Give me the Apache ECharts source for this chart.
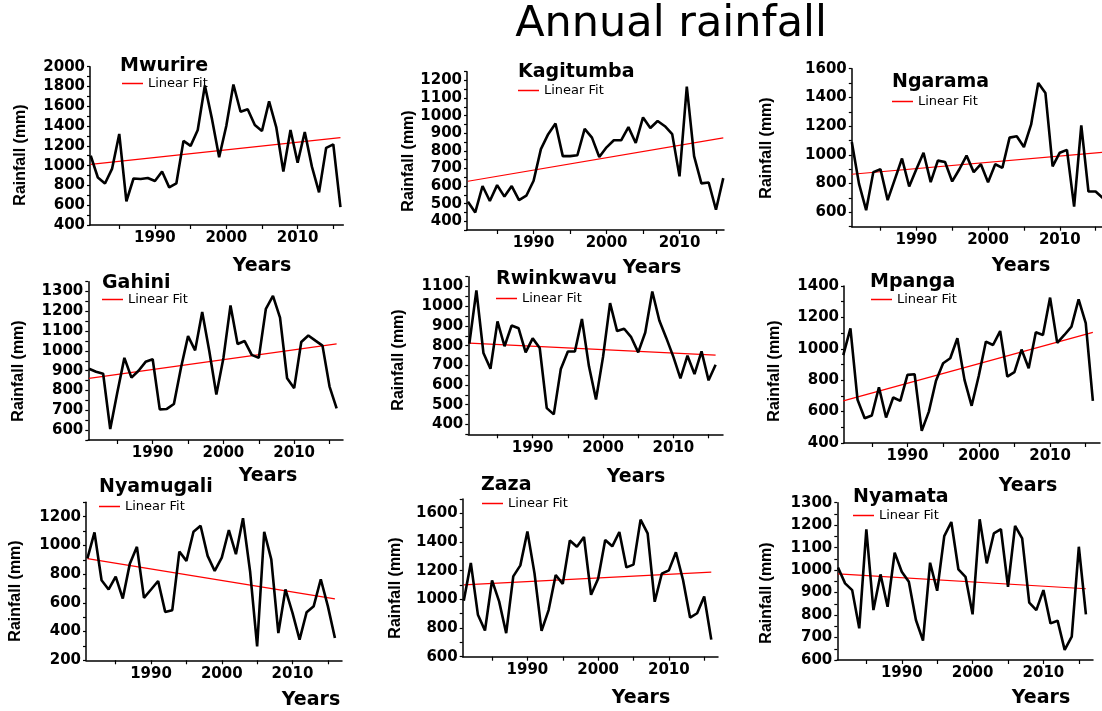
<!DOCTYPE html>
<html>
<head>
<meta charset="utf-8">
<title>Annual rainfall</title>
<script src="https://cdn.jsdelivr.net/npm/echarts@6/dist/echarts.min.js"></script>
<style>
  html, body { margin: 0; padding: 0; background: #fff; }
  #main { width: 1102px; height: 711px; }
</style>
</head>
<body>
<div id="main"></div>
<script>
// years on the x axis
const years = [1981, 1982, 1983, 1984, 1985, 1986, 1987, 1988, 1989, 1990,
  1991, 1992, 1993, 1994, 1995, 1996, 1997, 1998, 1999, 2000,
  2001, 2002, 2003, 2004, 2005, 2006, 2007, 2008, 2009, 2010,
  2011, 2012, 2013, 2014, 2015, 2016];
const yearTicks = [1985, 1990, 1995, 2000, 2005, 2010, 2015];
const yearLabels = [1990, 2000, 2010];

// annual rainfall (mm)
const mwurire = [1100, 880, 820, 970, 1320, 640, 870, 865, 875, 845,
  940, 780, 820, 1250, 1200, 1360, 1810, 1470, 1085, 1400,
  1820, 1545, 1570, 1410, 1350, 1650, 1390, 940, 1360, 1030,
  1340, 990, 730, 1180, 1215, 580];
const kagitumba = [510, 450, 600, 515, 605, 540, 600, 520, 545, 630,
  810, 895, 955, 770, 770, 775, 925, 875, 765, 820,
  860, 860, 935, 845, 990, 930, 970, 940, 895, 655,
  1165, 770, 615, 620, 465, 645];
const ngarama = [1090, 800, 615, 880, 900, 685, 830, 975, 780, 900,
  1015, 810, 960, 950, 815, 900, 995, 880, 935, 810,
  935, 910, 1120, 1130, 1055, 1210, 1500, 1430, 920, 1015,
  1035, 640, 1205, 745, 745, 700];
const gahini = [910, 895, 885, 605, 790, 965, 865, 900, 945, 958,
  705, 707, 732, 915, 1075, 1003, 1197, 1000, 780, 965,
  1230, 1035, 1050, 980, 965, 1213, 1278, 1168, 862, 812,
  1045, 1078, 1052, 1027, 820, 710];
const rwinkwavu = [810, 1080, 763, 683, 923, 797, 902, 888, 766, 837,
  788, 483, 451, 682, 770, 770, 935, 695, 527, 743,
  1016, 874, 886, 843, 766, 867, 1075, 928, 838, 743,
  634, 749, 656, 771, 624, 703];
const mpanga = [960, 1130, 675, 558, 575, 755, 562, 690, 668, 834,
  838, 477, 600, 796, 908, 940, 1067, 802, 637, 828,
  1046, 1024, 1113, 823, 851, 995, 876, 1105, 1088, 1326,
  1038, 1088, 1141, 1315, 1164, 669];
const nyamugali = [910, 1090, 757, 693, 782, 630, 873, 990, 635, 693,
  752, 537, 549, 957, 892, 1095, 1137, 927, 822, 915,
  1107, 939, 1189, 820, 297, 1095, 903, 390, 693, 530,
  344, 535, 577, 764, 577, 355];
const zaza = [990, 1254, 893, 783, 1132, 986, 764, 1160, 1237, 1474,
  1183, 780, 925, 1170, 1108, 1411, 1367, 1435, 1032, 1144,
  1414, 1370, 1470, 1223, 1242, 1556, 1460, 983, 1179, 1202,
  1328, 1137, 873, 903, 1020, 719];
const nyamata = [1012, 941, 911, 741, 1181, 822, 981, 837, 1078, 993,
  948, 778, 686, 1033, 908, 1151, 1214, 1003, 970, 803,
  1226, 1030, 1163, 1182, 926, 1197, 1141, 855, 822, 911,
  763, 775, 645, 704, 1104, 803];

// linear fit, value at first and last year
const fitYears = [1981, 2016];
const fitMwurire = [1013, 1283];
const fitKagitumba = [627, 874];
const fitNgarama = [865, 1018];
const fitGahini = [861, 1036];
const fitRwinkwavu = [813, 752];
const fitMpanga = [668, 1105];
const fitNyamugali = [908, 628];
const fitZaza = [1101, 1190];
const fitNyamata = [983, 917];

// layout of the 9 panels (pixels)
// box = [left, top, width, height] of the plot area
const panels = [
  {name: 'Mwurire', data: mwurire, fit: fitMwurire, yMin: 400, yMax: 2000, step: 100, label: 200,
    box: [90, 66.7, 253.3, 158.3], xMin: 1980.9, xMax: 2016.4,
    title: [120, 66], legend: [122, 77], years: [262, 266], rain: [21, 155]},
  {name: 'Kagitumba', data: kagitumba, fit: fitKagitumba, yMin: 350, yMax: 1250, step: 50, label: 100,
    box: [467, 71.7, 257, 158.3], xMin: 1980.87, xMax: 2016.1,
    title: [518, 72], legend: [518, 84], years: [652, 268], rain: [409, 161]},
  {name: 'Ngarama', data: ngarama, fit: fitNgarama, yMin: 500, yMax: 1600, step: 100, label: 200,
    box: [851.8, 68.7, 251, 158], xMin: 1981, xMax: 2016,
    title: [892, 82], legend: [892, 95], years: [1021, 266], rain: [767, 148]},
  {name: 'Gahini', data: gahini, fit: fitGahini, yMin: 550, yMax: 1350, step: 50, label: 100,
    box: [88.3, 281.7, 254.7, 158.3], xMin: 1980.9, xMax: 2016.9,
    title: [102, 283], legend: [102, 293], years: [268, 476], rain: [19, 371]},
  {name: 'Rwinkwavu', data: rwinkwavu, fit: fitRwinkwavu, yMin: 350, yMax: 1150, step: 50, label: 100,
    box: [468.3, 276.7, 254.7, 157.6], xMin: 1980.85, xMax: 2017.05,
    title: [496, 279], legend: [496, 292], years: [636, 477], rain: [399, 360]},
  {name: 'Mpanga', data: mpanga, fit: fitMpanga, yMin: 400, yMax: 1400, step: 100, label: 200,
    box: [844, 286, 256, 157], xMin: 1981.1, xMax: 2017,
    title: [870, 282], legend: [871, 293], years: [1028, 486], rain: [775, 371]},
  {name: 'Nyamugali', data: nyamugali, fit: fitNyamugali, yMin: 200, yMax: 1300, step: 100, label: 200,
    box: [86, 502.3, 256, 158], xMin: 1980.8, xMax: 2017,
    title: [99, 487], legend: [99, 500], years: [311, 700], rain: [16, 591]},
  {name: 'Zaza', data: zaza, fit: fitZaza, yMin: 600, yMax: 1700, step: 100, label: 200,
    box: [462.7, 499, 255.3, 157.7], xMin: 1980.85, xMax: 2016.95,
    title: [481, 485], legend: [482, 497], years: [641, 698], rain: [396, 588]},
  {name: 'Nyamata', data: nyamata, fit: fitNyamata, yMin: 600, yMax: 1300, step: 50, label: 100,
    box: [837.3, 502.7, 255.7, 157.3], xMin: 1980.9, xMax: 2017,
    title: [853, 497], legend: [853, 509], years: [1041, 698], rain: [767, 593]}
];

const tickFont = {fontFamily: 'DejaVu Sans', fontWeight: 'bold', fontSize: 15, color: '#000'};
const axisLine = {show: true, onZero: false, lineStyle: {color: '#000', width: 1.5}};

let grid = [], xAxis = [], yAxis = [], series = [], legend = [];
let graphics = [{
  type: 'text', x: 671, y: 25,
  style: {text: 'Annual rainfall', font: '43px "DejaVu Sans"', fill: '#000',
    textAlign: 'center', textVerticalAlign: 'middle'}
}];

panels.forEach(function (p, i) {
  grid.push({left: p.box[0], top: p.box[1], width: p.box[2], height: p.box[3],
    containLabel: false, outerBoundsMode: 'none'});

  xAxis.push({
    type: 'value', gridIndex: i, min: p.xMin, max: p.xMax,
    axisLine: axisLine,
    axisTick: {show: true, customValues: yearTicks, length: 4, lineStyle: {color: '#000', width: 1.2}},
    axisLabel: Object.assign({
      customValues: yearLabels, margin: 6,
      formatter: function (v) { return String(v); } // no thousands separator
    }, tickFont),
    splitLine: {show: false}
  });

  yAxis.push({
    type: 'value', gridIndex: i, min: p.yMin, max: p.yMax, interval: p.step,
    axisLine: axisLine,
    axisTick: {show: true, length: 3, lineStyle: {color: '#000', width: 1.2}},
    axisLabel: Object.assign({
      margin: 5,
      formatter: function (v) { return v % p.label === 0 ? String(v) : ''; }
    }, tickFont),
    splitLine: {show: false}
  });

  // rainfall curve
  series.push({
    name: p.name, type: 'line', xAxisIndex: i, yAxisIndex: i,
    data: years.map(function (y, k) { return [y, p.data[k]]; }),
    symbol: 'none', z: 3,
    lineStyle: {color: '#000', width: 2.6}
  });
  // linear fit
  series.push({
    name: 'Linear Fit', type: 'line', xAxisIndex: i, yAxisIndex: i,
    data: fitYears.map(function (y, k) { return [y, p.fit[k]]; }),
    symbol: 'none', z: 2, color: '#ff0000',
    lineStyle: {color: '#ff0000', width: 1.2}
  });

  legend.push({
    data: ['Linear Fit'], left: p.legend[0], top: p.legend[1], padding: 0,
    icon: 'rect', itemWidth: 21, itemHeight: 1.5, selectedMode: false,
    textStyle: {fontFamily: 'DejaVu Sans', fontSize: 13, color: '#000'}
  });

  graphics.push({
    type: 'text', x: p.title[0], y: p.title[1],
    style: {text: p.name, font: 'bold 19px "DejaVu Sans"', fill: '#000',
      textAlign: 'left', textVerticalAlign: 'middle'}
  });
  graphics.push({
    type: 'text', x: p.years[0], y: p.years[1],
    style: {text: 'Years', font: 'bold 19px "DejaVu Sans"', fill: '#000',
      textAlign: 'center', textVerticalAlign: 'middle'}
  });
  graphics.push({
    type: 'text', x: p.rain[0], y: p.rain[1], rotation: Math.PI / 2,
    style: {text: 'Rainfall (mm)', font: 'bold 16px "Liberation Sans"', fill: '#000',
      textAlign: 'center', textVerticalAlign: 'middle'}
  });
});

let chart = echarts.init(document.getElementById('main'), null, {renderer: 'canvas'});
let option = {
  backgroundColor: '#fff',
  animation: false,
  grid: grid,
  xAxis: xAxis,
  yAxis: yAxis,
  legend: legend,
  series: series,
  graphic: graphics
};
chart.setOption(option);
</script>
</body>
</html>
